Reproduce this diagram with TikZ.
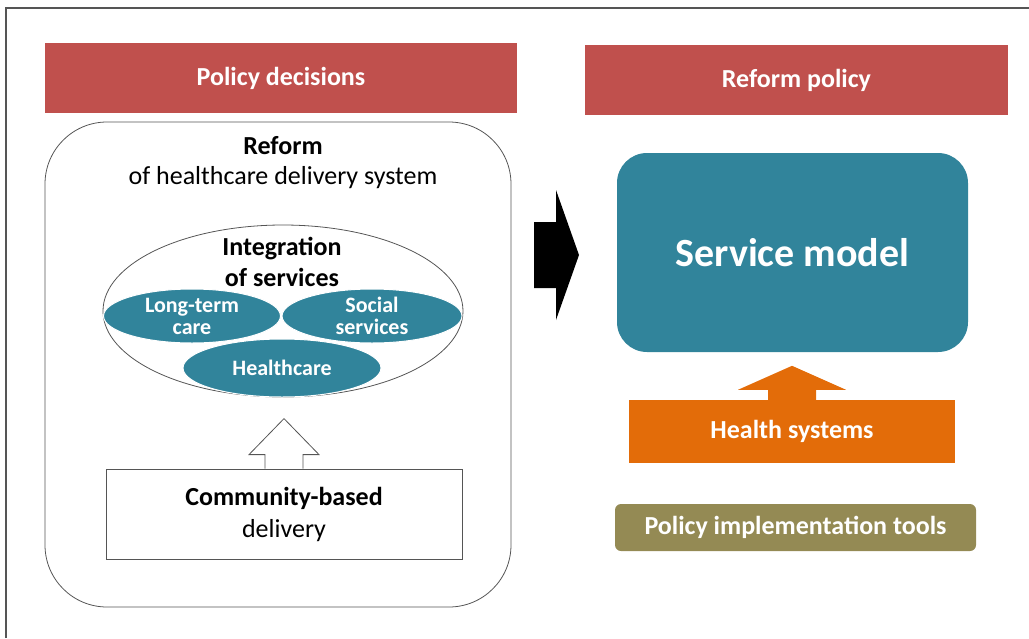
\documentclass[tikz,border=0pt]{standalone}
\usepackage{fontspec}
\setmainfont{Carlito}
\usetikzlibrary{positioning,shapes.geometric,calc}

\definecolor{policyred}{HTML}{C0504D}
\definecolor{modelteal}{HTML}{31849B}
\definecolor{systemorange}{HTML}{E36C09}
\definecolor{toololive}{HTML}{948A54}
\definecolor{framegray}{HTML}{555555}

\tikzset{
  redbar/.style={fill=policyred, text=white, inner sep=0pt, outer sep=0pt,
    minimum height=70pt, font=\fontsize{26}{28}\selectfont\bfseries},
  service/.style={ellipse, fill=modelteal, draw=white, line width=1pt, text=white,
    inner sep=0pt, align=center, font=\fontsize{22}{22}\selectfont\bfseries},
  outline/.style={draw=framegray, line width=0.8pt},
}

\begin{document}
\begin{tikzpicture}[x=1pt,y=-1pt]
                        \useasboundingbox (0,0) rectangle (1029,638);
                        {

                        % Drawing frame top and left
                        \draw [line width=2pt, framegray] (6,638) -- (6,8) -- (1029,8);%

                        % Marking headers
                        \node [redbar, minimum width=472pt] (decisions) at (281,78) {Policy decisions};%
                        \node [redbar, minimum width=423pt] (reformpolicy) at (796.5,80) {Reform policy};%

                        % Marking reform box
                        \node [outline, rounded corners=62pt, minimum width=466pt, minimum height=485pt,
                          inner sep=0pt] (reform) at (278,364.5) {};%
                        \node [font=\fontsize{26}{28}\selectfont\bfseries] (reformtitle) at (283,146) {Reform};%
                        \node [font=\fontsize{26}{28}\selectfont] (reformsub) at (283,178) {of healthcare delivery system};%

                        % Marking integration ellipse
                        \node [ellipse, outline, minimum width=360pt, minimum height=172pt,
                          inner sep=0pt] (integration) at (283,311) {};%
                        \node [align=center, font=\fontsize{26}{31}\selectfont\bfseries] (integtitle)
                          at (282,262) {Integration\\of services};%

                        % Marking services
                        \node [service, minimum width=177pt, minimum height=54pt] (longterm)
                          at (192,316) {Long-term\\care};%
                        \node [service, minimum width=180pt, minimum height=54pt] (social)
                          at (372,316) {Social\\services};%
                        \node [service, minimum width=198pt, minimum height=58pt] (healthcare)
                          at (282,368) {Healthcare};%

                        % Marking community box
                        \node [outline, minimum width=356pt, minimum height=90pt, inner sep=0pt,
                          align=center, font=\fontsize{26}{32}\selectfont] (community)
                          at (284,514) {\textbf{Community-based}\\delivery};%

                        % Drawing hollow arrow community -> integration
                        \draw [outline, fill=white] (community.north) ++(-19,0) -- ++(0,-14) -- ++(-16,0)
                          -- ++(35,-36) -- ++(35,36) -- ++(-16,0) -- ++(0,14);%

                        % Drawing black arrow reform -> service model
                        \fill [black] (534,222) -- (556,222) -- (556,190) -- (579,255) -- (556,320)
                          -- (556,288) -- (534,288) -- cycle;%

                        % Marking service model
                        \node [fill=modelteal, rounded corners=30pt, minimum width=351pt, minimum height=199pt,
                          inner sep=0pt, text=white, font=\fontsize{40}{44}\selectfont\bfseries]
                          (model) at (792.5,252.5) {Service model};%

                        % Marking health systems with arrow
                        \node [fill=systemorange, minimum width=326pt, minimum height=63pt, inner sep=0pt,
                          text=white, font=\fontsize{26}{28}\selectfont\bfseries]
                          (systems) at (792,431.5) {Health systems};%
                        \fill [systemorange] (systems.north) ++(-24,0.5) -- ++(0,-10.5) -- ++(-30,0)
                          -- ++(54,-24) -- ++(54,24) -- ++(-30,0) -- ++(0,10.5) -- cycle;%

                        % Marking tools
                        \node [fill=toololive, rounded corners=6pt, minimum width=361pt, minimum height=47pt,
                          inner sep=0pt, text=white, font=\fontsize{26}{28}\selectfont\bfseries]
                          (tools) at (795.5,527.5) {Policy implementation tools};%
                        }
\end{tikzpicture}
\end{document}
